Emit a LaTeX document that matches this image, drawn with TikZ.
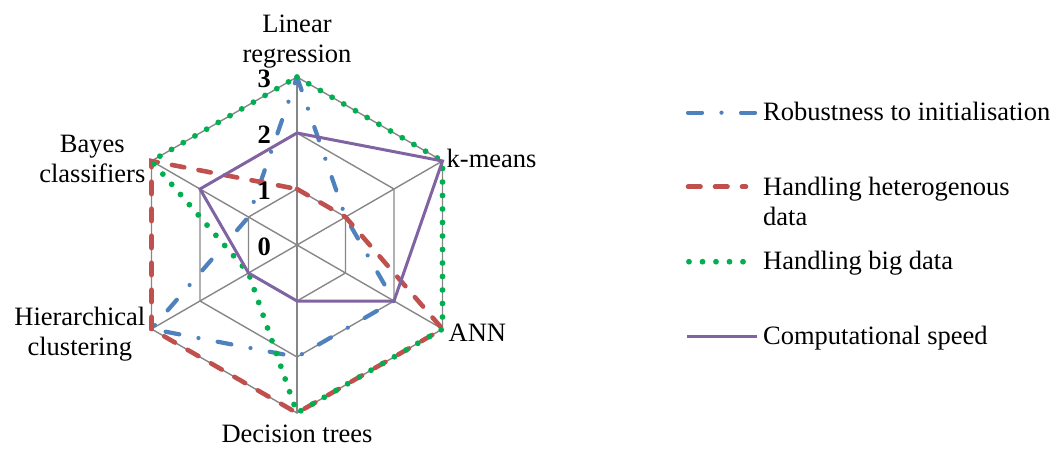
\documentclass[tikz,border=0pt]{standalone}
\usepackage{fontspec}
\setmainfont{Liberation Serif}
\usetikzlibrary{positioning,calc}
\definecolor{robustblue}{HTML}{4F81BD}
\definecolor{heterored}{HTML}{C0504D}
\definecolor{biggreen}{HTML}{00B050}
\definecolor{speedpurple}{HTML}{8064A2}
\definecolor{gridgrey}{HTML}{878787}

\begin{document}
\begin{tikzpicture}[x=1pt, y=1pt, font=\fontsize{26.5}{30}\selectfont]
\tikzstyle{web}=[draw=gridgrey, line width=1.4pt]
\tikzstyle{robust}=[draw=robustblue, line width=4.2pt, line cap=round, dash pattern=on 14pt off 19.5pt on 0pt off 19.5pt]
\tikzstyle{hetero}=[draw=heterored, line width=4.6pt, line cap=round, dash pattern=on 12.5pt off 14.5pt]
\tikzstyle{bigdata}=[draw=biggreen, line width=5.8pt, line cap=round, dash pattern=on 0pt off 13.5pt]
\tikzstyle{speed}=[draw=speedpurple, line width=3pt]
\tikzstyle{axis label}=[align=center, inner sep=2pt]
\tikzstyle{tick}=[font=\fontsize{26.5}{30}\selectfont\bfseries, anchor=east, inner sep=0pt]
\tikzstyle{legend}=[align=left, inner sep=0pt]

\useasboundingbox (0,0) rectangle (1061,448);

\begin{scope}[shift={(297pt,203pt)}, x=56pt, y=56pt]
\coordinate (O)   at (0,0);
\coordinate (lr)  at (90:3);
\coordinate (km)  at (30:3);
\coordinate (ann) at (-30:3);
\coordinate (dt)  at (-90:3);
\coordinate (hc)  at (-150:3);
\coordinate (bc)  at (150:3);
\foreach \a in {lr,km,ann,dt,hc,bc} \draw[web] (O) -- (\a);
\foreach \r in {1,2,3}
  \draw[web] (90:\r) -- (30:\r) -- (-30:\r) -- (-90:\r) -- (-150:\r) -- (150:\r) -- cycle;
\draw[robust]  (90:3) -- (30:1) -- (-30:2) -- (-90:2) -- (-150:3) -- (150:1) -- cycle;
\draw[hetero]  (90:1) -- (30:1) -- (-30:3) -- (-90:3) -- (-150:3) -- (150:3) -- cycle;
\draw[bigdata] (90:3) -- (30:3) -- (-30:3) -- (-90:3) -- (-150:1) -- (150:3) -- cycle;
\draw[speed]   (90:2) -- (30:3) -- (-30:2) -- (-90:1) -- (-150:1) -- (150:2) -- cycle;
\foreach \r in {0,1,2,3}
  \node[tick] (t\r) at ($(90:\r)+(-26pt,-2pt)$) {\r};
\end{scope}

\node[axis label, above=7pt of lr]            (lrlabel)  {Linear\\regression};
\node[axis label, right=2pt of km, yshift=3pt] (kmlabel)  {k-means};
\node[axis label, right=4pt of ann, yshift=-4pt] (annlabel) {ANN};
\node[axis label, below=10pt of dt]           (dtlabel)  {Decision trees};
\node[axis label, left=4pt of hc, yshift=-5pt] (hclabel)  {Hierarchical\\clustering};
\node[axis label, left=4pt of bc, yshift=2pt]  (bclabel)  {Bayes\\classifiers};

\node[legend, anchor=base west]  (robustkey) at (763,327.3) {Robustness to initialisation};
\node[legend, anchor=north west] (heterokey) at (763,271.1) {Handling heterogenous\\data};
\node[legend, anchor=base west]  (bigkey)    at (763,178.7) {Handling big data};
\node[legend, anchor=base west]  (speedkey)  at (763,104)   {Computational speed};
\draw[robust]  (688,335.3) -- (755,335.3);
\draw[hetero]  (688,261.3) -- (746,261.3);
\draw[bigdata] (689,186.3) -- (745,186.3);
\draw[speed]   (687,112) -- (757,112);
\end{tikzpicture}
\end{document}
